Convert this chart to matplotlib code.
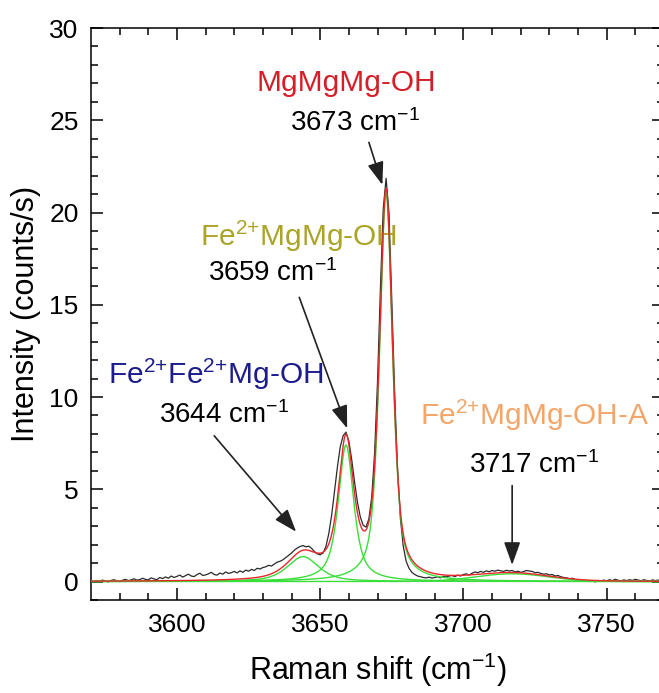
import matplotlib
matplotlib.use("Agg")
import matplotlib.pyplot as plt
import numpy as np

plt.rcParams['font.family'] = ['Liberation Sans', 'DejaVu Sans']
plt.rcParams['mathtext.fontset'] = 'custom'
plt.rcParams['mathtext.rm'] = 'Liberation Sans'
plt.rcParams['mathtext.it'] = 'Liberation Sans:italic'
plt.rcParams['mathtext.default'] = 'regular'

# measured OH-stretching spectrum, 1 cm-1 steps from 3570 to 3770
shift = np.arange(3570, 3771)
measured = [
    0.02, -0.03, 0.05, 0.00, 0.08, 0.03, -0.02, 0.06, 0.10, 0.04,
    0.00, 0.07, 0.12, 0.05, 0.09, 0.15, 0.08, 0.10, 0.18, 0.12,
    0.09, 0.20, 0.14, 0.10, 0.22, 0.16, 0.25, 0.18, 0.30, 0.22,
    0.28, 0.35, 0.24, 0.32, 0.40, 0.30, 0.27, 0.38, 0.45, 0.33,
    0.36, 0.42, 0.50, 0.38, 0.35, 0.46, 0.40, 0.52, 0.44, 0.48,
    0.55, 0.47, 0.58, 0.50, 0.62, 0.56, 0.66, 0.60, 0.72, 0.68,
    0.76, 0.80, 0.88, 0.84, 0.95, 1.05, 1.10, 1.18, 1.30, 1.42,
    1.55, 1.70, 1.82, 1.90, 1.95, 1.88, 1.92, 1.80, 1.62, 1.50,
    1.45, 1.55, 1.90, 2.60, 3.60, 4.90, 6.20, 7.30, 7.90, 8.10,
    7.60, 6.60, 5.40, 4.30, 3.50, 3.05, 2.95, 3.40, 4.60, 7.00,
    10.8, 15.8, 20.2, 21.85, 20.0, 15.2, 10.2, 6.10, 3.40, 1.90,
    1.10, 0.72, 0.50, 0.38, 0.30, 0.26, 0.22, 0.20, 0.24, 0.19,
    0.22, 0.26, 0.20, 0.28, 0.25, 0.30, 0.33, 0.27, 0.35, 0.30,
    0.38, 0.42, 0.35, 0.45, 0.52, 0.48, 0.55, 0.50, 0.58, 0.53,
    0.60, 0.56, 0.62, 0.58, 0.55, 0.61, 0.57, 0.60, 0.52, 0.56,
    0.50, 0.54, 0.60, 0.57, 0.55, 0.48, 0.50, 0.44, 0.40, 0.42,
    0.36, 0.38, 0.30, 0.33, 0.26, 0.22, 0.20, 0.15, 0.18, 0.10,
    0.06, 0.08, 0.02, 0.05, 0.00, 0.04, -0.02, 0.06, 0.03, 0.08,
    0.04, 0.10, 0.05, 0.12, 0.07, 0.04, 0.09, 0.05, 0.10, 0.06,
    0.12, 0.08, 0.04, 0.10, 0.06, 0.03, 0.09, 0.05, 0.08, 0.04,
    0.06,
]

# fitted pseudo-Voigt components
peak_pos = [3644, 3659, 3673, 3717]
peak_height = [1.35, 7.4, 21.0, 0.42]
peak_fwhm = [13.0, 6.4, 5.4, 30.0]
peak_eta = [0.6, 0.75, 0.6, 0.0]

peak_names = ['Fe$^{2{+}}$Fe$^{2{+}}$Mg-OH', 'Fe$^{2{+}}$MgMg-OH',
              'MgMgMg-OH', 'Fe$^{2{+}}$MgMg-OH-A']
name_colors = ['#1c1c8c', '#aaa526', '#d41f28', '#f3a66a']
name_xy = [(3613.5, 11.2), (3642.5, 18.7), (3659.0, 27.0), (3724.8, 9.0)]
pos_xy = [(3616.5, 9.0), (3633.5, 16.7), (3662.0, 24.85), (3724.5, 6.3)]
arrow_from = [(3613.0, 7.9), (3642.7, 15.4), (3667.0, 23.8), (3717.0, 5.2)]
arrow_to = [(3641.6, 2.7), (3659.4, 8.3), (3671.7, 21.5), (3717.0, 0.9)]


def pseudo_voigt(x, x0, h, w, eta):
    u = (x - x0) / w
    lor = 1.0 / (1.0 + 4.0 * u ** 2)
    gau = np.exp(-4.0 * np.log(2) * u ** 2)
    return h * (eta * lor + (1 - eta) * gau)


xf = np.linspace(3570, 3770, 2001)
comps = [pseudo_voigt(xf, *p) for p in zip(peak_pos, peak_height, peak_fwhm, peak_eta)]
fit = np.sum(comps, axis=0)

fig = plt.figure(figsize=(6.59, 6.93), dpi=100)
ax = fig.add_axes([91 / 659, 93 / 693, 573 / 659, 572 / 693])

ax.plot(shift, measured, color='#2a2a2a', lw=0.9, zorder=2)
for c in comps:
    ax.plot(xf, c, color='#3ade3a', lw=1.0, zorder=3)
ax.plot(xf, fit, color='#e8262c', lw=1.0, zorder=4)

for name, col, nxy, pxy, a0, a1, p in zip(peak_names, name_colors, name_xy,
                                          pos_xy, arrow_from, arrow_to, peak_pos):
    ax.text(*nxy, name, color=col, fontsize=21.5, ha='center', va='center')
    ax.text(*pxy, f'{p} cm$^{{-1}}$', color='black', fontsize=20, ha='center', va='center')
    ax.annotate('', xy=a1, xytext=a0,
                arrowprops=dict(arrowstyle='-|>,head_length=0.7,head_width=0.25',
                                color='#222222', lw=1.2, mutation_scale=20,
                                shrinkA=0, shrinkB=0))

ax.set_xlim(3570, 3770)
ax.set_ylim(-1, 30)
ax.set_xticks([3600, 3650, 3700, 3750])
ax.set_xticks(np.arange(3580, 3770, 10), minor=True)
ax.set_yticks(np.arange(0, 31, 5))
ax.set_yticks(np.arange(-1, 31, 1), minor=True)
ax.tick_params(which='both', direction='in', top=True, right=True, width=1.1,
               labelsize=19, pad=9)
ax.tick_params(which='major', length=8.5)
ax.tick_params(which='minor', length=5)
for s in ax.spines.values():
    s.set_linewidth(1.1)

ax.set_xlabel('Raman shift (cm$^{-1}$)', fontsize=22, labelpad=10)
ax.set_ylabel('Intensity (counts/s)', fontsize=22, labelpad=6)

fig.savefig('out.png', dpi=100)
